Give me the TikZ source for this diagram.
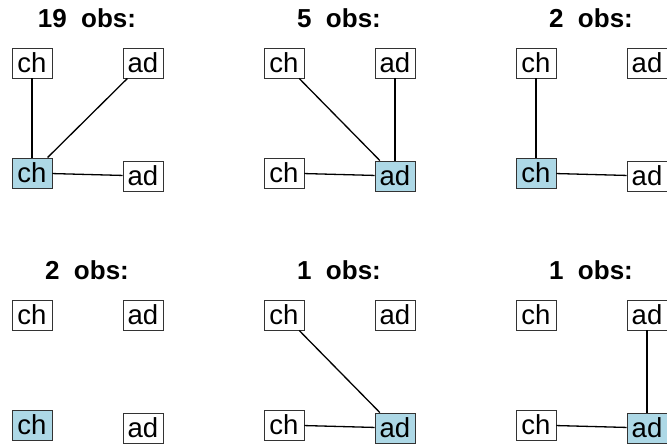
\documentclass[tikz,border=0pt]{standalone}
\usepackage{fontspec}
\setmainfont{Liberation Sans}
\definecolor{boxblue}{HTML}{ADD8E6}
\definecolor{boxedge}{HTML}{333333}
\tikzset{
  vbox/.style={draw=boxedge, line width=0.9pt, fill=white, minimum width=40pt, minimum height=30pt, inner sep=0pt, font=\fontsize{27.5}{27.5}\selectfont},
  vblue/.style={vbox, fill=boxblue},
  ptitle/.style={anchor=base, font=\bfseries\fontsize{26}{26}\selectfont},
  link/.style={line width=1.3pt, black}
}
\newcommand{\mypanel}[5]{%
  % #1 prefix, #2 dx, #3 dy, #4 title, #5 which blue (c or a)
  \node[ptitle] (#1t) at (87+#2, 28+#3) {#4\ \ obs:};
  \node[vbox] (#1cT) at (32+#2, 63+#3) {ch};
  \node[vbox] (#1aT) at (143+#2, 63+#3) {ad};
  \if#5c
    \node[vblue] (#1cB) at (32+#2, 173+#3) {ch};
    \node[vbox] (#1aB) at (143+#2, 176+#3) {ad};
  \else
    \node[vbox] (#1cB) at (32+#2, 173+#3) {ch};
    \node[vblue] (#1aB) at (143+#2, 176+#3) {ad};
  \fi
}
\begin{document}
\begin{tikzpicture}[x=1pt,y=-1pt]
\useasboundingbox (0,0) rectangle (667,446);
\mypanel{a}{0}{0}{19}{c}
\mypanel{b}{252}{0}{5}{a}
\mypanel{c}{504}{0}{2}{c}
\mypanel{d}{0}{252}{2}{c}
\mypanel{e}{252}{252}{1}{a}
\mypanel{f}{504}{252}{1}{a}
% panel 1
\draw[link] (acT) -- (acB);
\draw[link] (aaT) -- (acB);
\draw[link] (acB) -- (aaB);
% panel 2
\draw[link] (bcT) -- (baB);
\draw[link] (baT) -- (baB);
\draw[link] (bcB) -- (baB);
% panel 3
\draw[link] (ccT) -- (ccB);
\draw[link] (ccB) -- (caB);
% panel 5
\draw[link] (ecT) -- (eaB);
\draw[link] (ecB) -- (eaB);
% panel 6
\draw[link] (faT) -- (faB);
\draw[link] (fcB) -- (faB);
\end{tikzpicture}
\end{document}
